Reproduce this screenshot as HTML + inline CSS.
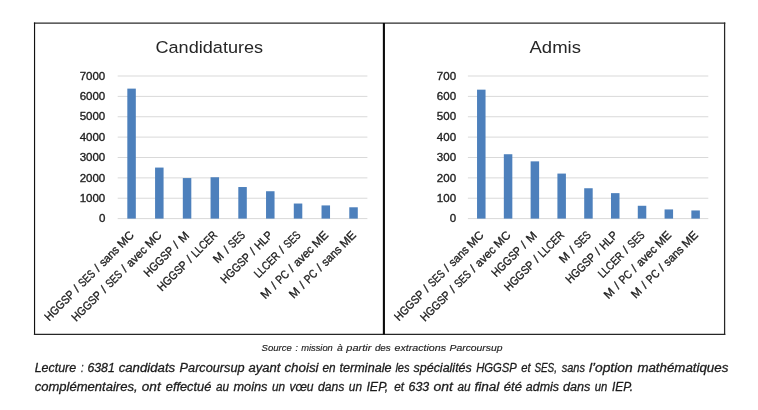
<!DOCTYPE html><html><head><meta charset="utf-8"><title>Candidatures / Admis</title>
<style>html,body{margin:0;padding:0;background:#fff}body{width:758px;height:410px;overflow:hidden}svg{display:block;will-change:transform;opacity:0.999}text{font-family:"Liberation Sans",sans-serif;stroke-linejoin:round}.b{stroke:#1e1e1e;stroke-width:.35px}.i{stroke:#1c1c1c;stroke-width:.28px}.j{stroke:#222;stroke-width:.15px}.i,.j{font-style:italic}</style></head><body>
<svg width="758" height="410" viewBox="0 0 758 410">
<rect x="0" y="0" width="758" height="410" fill="#ffffff"/>
<path d="M33.9 23.1H725.3" stroke="#2b2b2b" stroke-width="1.4" fill="none"/>
<path d="M34.55 22.4V334.9" stroke="#111" stroke-width="1.15" fill="none"/>
<path d="M724.6 22.4V334.9" stroke="#262626" stroke-width="1.25" fill="none"/>
<path d="M33.9 334.3H725.3" stroke="#262626" stroke-width="1.2" fill="none"/>
<rect x="382.85" y="23" width="2.1" height="311.5" fill="#0a0a0a"/>
<line x1="117.70" x2="367.40" y1="218.60" y2="218.60" stroke="#d9d9d9" stroke-width="1"/>
<line x1="117.70" x2="367.40" y1="198.23" y2="198.23" stroke="#d9d9d9" stroke-width="1"/>
<line x1="117.70" x2="367.40" y1="177.86" y2="177.86" stroke="#d9d9d9" stroke-width="1"/>
<line x1="117.70" x2="367.40" y1="157.49" y2="157.49" stroke="#d9d9d9" stroke-width="1"/>
<line x1="117.70" x2="367.40" y1="137.12" y2="137.12" stroke="#d9d9d9" stroke-width="1"/>
<line x1="117.70" x2="367.40" y1="116.75" y2="116.75" stroke="#d9d9d9" stroke-width="1"/>
<line x1="117.70" x2="367.40" y1="96.38" y2="96.38" stroke="#d9d9d9" stroke-width="1"/>
<line x1="117.70" x2="367.40" y1="76.01" y2="76.01" stroke="#d9d9d9" stroke-width="1"/>
<rect x="127.32" y="88.62" width="8.5" height="129.98" fill="#4d80bc"/>
<rect x="155.07" y="167.57" width="8.5" height="51.03" fill="#4d80bc"/>
<rect x="182.81" y="178.06" width="8.5" height="40.54" fill="#4d80bc"/>
<rect x="210.56" y="177.25" width="8.5" height="41.35" fill="#4d80bc"/>
<rect x="238.30" y="187.03" width="8.5" height="31.57" fill="#4d80bc"/>
<rect x="266.04" y="191.24" width="8.5" height="27.36" fill="#4d80bc"/>
<rect x="293.79" y="203.53" width="8.5" height="15.07" fill="#4d80bc"/>
<rect x="321.53" y="205.42" width="8.5" height="13.18" fill="#4d80bc"/>
<rect x="349.28" y="207.29" width="8.5" height="11.31" fill="#4d80bc"/>
<text class="b" x="98.88" y="222.30" font-size="11.7" fill="#1e1e1e" textLength="6.42" lengthAdjust="spacingAndGlyphs">0</text>
<text class="b" x="79.63" y="201.93" font-size="11.7" fill="#1e1e1e" textLength="25.67" lengthAdjust="spacingAndGlyphs">1000</text>
<text class="b" x="79.63" y="181.56" font-size="11.7" fill="#1e1e1e" textLength="25.67" lengthAdjust="spacingAndGlyphs">2000</text>
<text class="b" x="79.63" y="161.19" font-size="11.7" fill="#1e1e1e" textLength="25.67" lengthAdjust="spacingAndGlyphs">3000</text>
<text class="b" x="79.63" y="140.82" font-size="11.7" fill="#1e1e1e" textLength="25.67" lengthAdjust="spacingAndGlyphs">4000</text>
<text class="b" x="79.63" y="120.45" font-size="11.7" fill="#1e1e1e" textLength="25.67" lengthAdjust="spacingAndGlyphs">5000</text>
<text class="b" x="79.63" y="100.08" font-size="11.7" fill="#1e1e1e" textLength="25.67" lengthAdjust="spacingAndGlyphs">6000</text>
<text class="b" x="79.63" y="79.71" font-size="11.7" fill="#1e1e1e" textLength="25.67" lengthAdjust="spacingAndGlyphs">7000</text>
<g transform="translate(134.77,235.90) rotate(-45)" class="b" font-size="11.7" fill="#1e1e1e">
<text x="-121.03" y="0" textLength="37.05" lengthAdjust="spacingAndGlyphs">HGGSP</text>
<text x="-78.55" y="0" text-anchor="middle">/</text>
<text x="-73.12" y="0" textLength="18.22" lengthAdjust="spacingAndGlyphs">SES</text>
<text x="-49.47" y="0" text-anchor="middle">/</text>
<text x="-44.04" y="0" textLength="23.14" lengthAdjust="spacingAndGlyphs">sans</text>
<text x="-17.98" y="0" textLength="17.98" lengthAdjust="spacingAndGlyphs">MC</text>
</g>
<g transform="translate(162.52,235.90) rotate(-45)" class="b" font-size="11.7" fill="#1e1e1e">
<text x="-121.86" y="0" textLength="37.05" lengthAdjust="spacingAndGlyphs">HGGSP</text>
<text x="-79.39" y="0" text-anchor="middle">/</text>
<text x="-73.96" y="0" textLength="18.22" lengthAdjust="spacingAndGlyphs">SES</text>
<text x="-50.30" y="0" text-anchor="middle">/</text>
<text x="-44.88" y="0" textLength="23.97" lengthAdjust="spacingAndGlyphs">avec</text>
<text x="-17.98" y="0" textLength="17.98" lengthAdjust="spacingAndGlyphs">MC</text>
</g>
<g transform="translate(190.26,235.90) rotate(-45)" class="b" font-size="11.7" fill="#1e1e1e">
<text x="-58.98" y="0" textLength="37.05" lengthAdjust="spacingAndGlyphs">HGGSP</text>
<text x="-16.50" y="0" text-anchor="middle">/</text>
<text x="-5.54" y="0" text-anchor="middle">M</text>
</g>
<g transform="translate(218.01,235.90) rotate(-45)" class="b" font-size="11.7" fill="#1e1e1e">
<text x="-79.05" y="0" textLength="37.05" lengthAdjust="spacingAndGlyphs">HGGSP</text>
<text x="-36.58" y="0" text-anchor="middle">/</text>
<text x="-31.15" y="0" textLength="31.15" lengthAdjust="spacingAndGlyphs">LLCER</text>
</g>
<g transform="translate(245.75,235.90) rotate(-45)" class="b" font-size="11.7" fill="#1e1e1e">
<text x="-34.62" y="0" text-anchor="middle">M</text>
<text x="-23.65" y="0" text-anchor="middle">/</text>
<text x="-18.22" y="0" textLength="18.22" lengthAdjust="spacingAndGlyphs">SES</text>
</g>
<g transform="translate(273.49,235.90) rotate(-45)" class="b" font-size="11.7" fill="#1e1e1e">
<text x="-68.11" y="0" textLength="37.05" lengthAdjust="spacingAndGlyphs">HGGSP</text>
<text x="-25.63" y="0" text-anchor="middle">/</text>
<text x="-20.20" y="0" textLength="20.20" lengthAdjust="spacingAndGlyphs">HLP</text>
</g>
<g transform="translate(301.24,235.90) rotate(-45)" class="b" font-size="11.7" fill="#1e1e1e">
<text x="-60.23" y="0" textLength="31.15" lengthAdjust="spacingAndGlyphs">LLCER</text>
<text x="-23.65" y="0" text-anchor="middle">/</text>
<text x="-18.22" y="0" textLength="18.22" lengthAdjust="spacingAndGlyphs">SES</text>
</g>
<g transform="translate(328.98,235.90) rotate(-45)" class="b" font-size="11.7" fill="#1e1e1e">
<text x="-85.14" y="0" text-anchor="middle">M</text>
<text x="-74.17" y="0" text-anchor="middle">/</text>
<text x="-68.75" y="0" textLength="13.59" lengthAdjust="spacingAndGlyphs">PC</text>
<text x="-49.72" y="0" text-anchor="middle">/</text>
<text x="-44.29" y="0" textLength="23.97" lengthAdjust="spacingAndGlyphs">avec</text>
<text x="-17.40" y="0" textLength="17.40" lengthAdjust="spacingAndGlyphs">ME</text>
</g>
<g transform="translate(356.73,235.90) rotate(-45)" class="b" font-size="11.7" fill="#1e1e1e">
<text x="-84.30" y="0" text-anchor="middle">M</text>
<text x="-73.34" y="0" text-anchor="middle">/</text>
<text x="-67.91" y="0" textLength="13.59" lengthAdjust="spacingAndGlyphs">PC</text>
<text x="-48.89" y="0" text-anchor="middle">/</text>
<text x="-43.46" y="0" textLength="23.14" lengthAdjust="spacingAndGlyphs">sans</text>
<text x="-17.40" y="0" textLength="17.40" lengthAdjust="spacingAndGlyphs">ME</text>
</g>
<text x="155.5" y="52.7" font-size="16.8" fill="#262626" textLength="107.6" lengthAdjust="spacingAndGlyphs">Candidatures</text>
<line x1="467.90" x2="708.30" y1="218.60" y2="218.60" stroke="#d9d9d9" stroke-width="1"/>
<line x1="467.90" x2="708.30" y1="198.23" y2="198.23" stroke="#d9d9d9" stroke-width="1"/>
<line x1="467.90" x2="708.30" y1="177.86" y2="177.86" stroke="#d9d9d9" stroke-width="1"/>
<line x1="467.90" x2="708.30" y1="157.49" y2="157.49" stroke="#d9d9d9" stroke-width="1"/>
<line x1="467.90" x2="708.30" y1="137.12" y2="137.12" stroke="#d9d9d9" stroke-width="1"/>
<line x1="467.90" x2="708.30" y1="116.75" y2="116.75" stroke="#d9d9d9" stroke-width="1"/>
<line x1="467.90" x2="708.30" y1="96.38" y2="96.38" stroke="#d9d9d9" stroke-width="1"/>
<line x1="467.90" x2="708.30" y1="76.01" y2="76.01" stroke="#d9d9d9" stroke-width="1"/>
<rect x="477.04" y="89.66" width="8.5" height="128.94" fill="#4d80bc"/>
<rect x="503.83" y="154.23" width="8.5" height="64.37" fill="#4d80bc"/>
<rect x="530.62" y="161.36" width="8.5" height="57.24" fill="#4d80bc"/>
<rect x="557.41" y="173.58" width="8.5" height="45.02" fill="#4d80bc"/>
<rect x="584.20" y="188.25" width="8.5" height="30.35" fill="#4d80bc"/>
<rect x="610.99" y="193.14" width="8.5" height="25.46" fill="#4d80bc"/>
<rect x="637.78" y="205.77" width="8.5" height="12.83" fill="#4d80bc"/>
<rect x="664.57" y="209.43" width="8.5" height="9.17" fill="#4d80bc"/>
<rect x="691.36" y="210.45" width="8.5" height="8.15" fill="#4d80bc"/>
<text class="b" x="449.68" y="222.30" font-size="11.7" fill="#1e1e1e" textLength="6.42" lengthAdjust="spacingAndGlyphs">0</text>
<text class="b" x="436.85" y="201.93" font-size="11.7" fill="#1e1e1e" textLength="19.25" lengthAdjust="spacingAndGlyphs">100</text>
<text class="b" x="436.85" y="181.56" font-size="11.7" fill="#1e1e1e" textLength="19.25" lengthAdjust="spacingAndGlyphs">200</text>
<text class="b" x="436.85" y="161.19" font-size="11.7" fill="#1e1e1e" textLength="19.25" lengthAdjust="spacingAndGlyphs">300</text>
<text class="b" x="436.85" y="140.82" font-size="11.7" fill="#1e1e1e" textLength="19.25" lengthAdjust="spacingAndGlyphs">400</text>
<text class="b" x="436.85" y="120.45" font-size="11.7" fill="#1e1e1e" textLength="19.25" lengthAdjust="spacingAndGlyphs">500</text>
<text class="b" x="436.85" y="100.08" font-size="11.7" fill="#1e1e1e" textLength="19.25" lengthAdjust="spacingAndGlyphs">600</text>
<text class="b" x="436.85" y="79.71" font-size="11.7" fill="#1e1e1e" textLength="19.25" lengthAdjust="spacingAndGlyphs">700</text>
<g transform="translate(484.49,235.90) rotate(-45)" class="b" font-size="11.7" fill="#1e1e1e">
<text x="-121.03" y="0" textLength="37.05" lengthAdjust="spacingAndGlyphs">HGGSP</text>
<text x="-78.55" y="0" text-anchor="middle">/</text>
<text x="-73.12" y="0" textLength="18.22" lengthAdjust="spacingAndGlyphs">SES</text>
<text x="-49.47" y="0" text-anchor="middle">/</text>
<text x="-44.04" y="0" textLength="23.14" lengthAdjust="spacingAndGlyphs">sans</text>
<text x="-17.98" y="0" textLength="17.98" lengthAdjust="spacingAndGlyphs">MC</text>
</g>
<g transform="translate(511.28,235.90) rotate(-45)" class="b" font-size="11.7" fill="#1e1e1e">
<text x="-121.86" y="0" textLength="37.05" lengthAdjust="spacingAndGlyphs">HGGSP</text>
<text x="-79.39" y="0" text-anchor="middle">/</text>
<text x="-73.96" y="0" textLength="18.22" lengthAdjust="spacingAndGlyphs">SES</text>
<text x="-50.30" y="0" text-anchor="middle">/</text>
<text x="-44.88" y="0" textLength="23.97" lengthAdjust="spacingAndGlyphs">avec</text>
<text x="-17.98" y="0" textLength="17.98" lengthAdjust="spacingAndGlyphs">MC</text>
</g>
<g transform="translate(538.07,235.90) rotate(-45)" class="b" font-size="11.7" fill="#1e1e1e">
<text x="-58.98" y="0" textLength="37.05" lengthAdjust="spacingAndGlyphs">HGGSP</text>
<text x="-16.50" y="0" text-anchor="middle">/</text>
<text x="-5.54" y="0" text-anchor="middle">M</text>
</g>
<g transform="translate(564.86,235.90) rotate(-45)" class="b" font-size="11.7" fill="#1e1e1e">
<text x="-79.05" y="0" textLength="37.05" lengthAdjust="spacingAndGlyphs">HGGSP</text>
<text x="-36.58" y="0" text-anchor="middle">/</text>
<text x="-31.15" y="0" textLength="31.15" lengthAdjust="spacingAndGlyphs">LLCER</text>
</g>
<g transform="translate(591.65,235.90) rotate(-45)" class="b" font-size="11.7" fill="#1e1e1e">
<text x="-34.62" y="0" text-anchor="middle">M</text>
<text x="-23.65" y="0" text-anchor="middle">/</text>
<text x="-18.22" y="0" textLength="18.22" lengthAdjust="spacingAndGlyphs">SES</text>
</g>
<g transform="translate(618.44,235.90) rotate(-45)" class="b" font-size="11.7" fill="#1e1e1e">
<text x="-68.11" y="0" textLength="37.05" lengthAdjust="spacingAndGlyphs">HGGSP</text>
<text x="-25.63" y="0" text-anchor="middle">/</text>
<text x="-20.20" y="0" textLength="20.20" lengthAdjust="spacingAndGlyphs">HLP</text>
</g>
<g transform="translate(645.23,235.90) rotate(-45)" class="b" font-size="11.7" fill="#1e1e1e">
<text x="-60.23" y="0" textLength="31.15" lengthAdjust="spacingAndGlyphs">LLCER</text>
<text x="-23.65" y="0" text-anchor="middle">/</text>
<text x="-18.22" y="0" textLength="18.22" lengthAdjust="spacingAndGlyphs">SES</text>
</g>
<g transform="translate(672.02,235.90) rotate(-45)" class="b" font-size="11.7" fill="#1e1e1e">
<text x="-85.14" y="0" text-anchor="middle">M</text>
<text x="-74.17" y="0" text-anchor="middle">/</text>
<text x="-68.75" y="0" textLength="13.59" lengthAdjust="spacingAndGlyphs">PC</text>
<text x="-49.72" y="0" text-anchor="middle">/</text>
<text x="-44.29" y="0" textLength="23.97" lengthAdjust="spacingAndGlyphs">avec</text>
<text x="-17.40" y="0" textLength="17.40" lengthAdjust="spacingAndGlyphs">ME</text>
</g>
<g transform="translate(698.81,235.90) rotate(-45)" class="b" font-size="11.7" fill="#1e1e1e">
<text x="-84.30" y="0" text-anchor="middle">M</text>
<text x="-73.34" y="0" text-anchor="middle">/</text>
<text x="-67.91" y="0" textLength="13.59" lengthAdjust="spacingAndGlyphs">PC</text>
<text x="-48.89" y="0" text-anchor="middle">/</text>
<text x="-43.46" y="0" textLength="23.14" lengthAdjust="spacingAndGlyphs">sans</text>
<text x="-17.40" y="0" textLength="17.40" lengthAdjust="spacingAndGlyphs">ME</text>
</g>
<text x="529.5" y="52.7" font-size="16.8" fill="#262626" textLength="51.4" lengthAdjust="spacingAndGlyphs">Admis</text>
<text class="j" x="261.5" y="350.9" font-size="9.3" fill="#222" textLength="30.4" lengthAdjust="spacingAndGlyphs">Source</text>
<text class="j" x="295.5" y="350.9" font-size="9.3" fill="#222" textLength="2.4" lengthAdjust="spacingAndGlyphs">:</text>
<text class="j" x="301.2" y="350.9" font-size="9.3" fill="#222" textLength="31.6" lengthAdjust="spacingAndGlyphs">mission</text>
<text class="j" x="337.1" y="350.9" font-size="9.3" fill="#222" textLength="5.8" lengthAdjust="spacingAndGlyphs">à</text>
<text class="j" x="346.3" y="350.9" font-size="9.3" fill="#222" textLength="25.0" lengthAdjust="spacingAndGlyphs">partir</text>
<text class="j" x="374.9" y="350.9" font-size="9.3" fill="#222" textLength="15.8" lengthAdjust="spacingAndGlyphs">des</text>
<text class="j" x="394.5" y="350.9" font-size="9.3" fill="#222" textLength="51.5" lengthAdjust="spacingAndGlyphs">extractions</text>
<text class="j" x="449.6" y="350.9" font-size="9.3" fill="#222" textLength="52.9" lengthAdjust="spacingAndGlyphs">Parcoursup</text>
<text class="i" x="34.7" y="371.8" font-size="12" fill="#1c1c1c" textLength="41.5" lengthAdjust="spacingAndGlyphs">Lecture</text>
<text class="i" x="81.1" y="371.8" font-size="12" fill="#1c1c1c" textLength="2.6" lengthAdjust="spacingAndGlyphs">:</text>
<text class="i" x="87.4" y="371.8" font-size="12" fill="#1c1c1c" textLength="27.4" lengthAdjust="spacingAndGlyphs">6381</text>
<text class="i" x="118.7" y="371.8" font-size="12" fill="#1c1c1c" textLength="56.5" lengthAdjust="spacingAndGlyphs">candidats</text>
<text class="i" x="179.6" y="371.8" font-size="12" fill="#1c1c1c" textLength="65.0" lengthAdjust="spacingAndGlyphs">Parcoursup</text>
<text class="i" x="248.6" y="371.8" font-size="12" fill="#1c1c1c" textLength="31.9" lengthAdjust="spacingAndGlyphs">ayant</text>
<text class="i" x="284.4" y="371.8" font-size="12" fill="#1c1c1c" textLength="34.2" lengthAdjust="spacingAndGlyphs">choisi</text>
<text class="i" x="322.5" y="371.8" font-size="12" fill="#1c1c1c" textLength="13.1" lengthAdjust="spacingAndGlyphs">en</text>
<text class="i" x="339.6" y="371.8" font-size="12" fill="#1c1c1c" textLength="51.9" lengthAdjust="spacingAndGlyphs">terminale</text>
<text class="i" x="395.4" y="371.8" font-size="12" fill="#1c1c1c" textLength="14.2" lengthAdjust="spacingAndGlyphs">les</text>
<text class="i" x="413.5" y="371.8" font-size="12" fill="#1c1c1c" textLength="58.3" lengthAdjust="spacingAndGlyphs">spécialités</text>
<text class="i" x="476.2" y="371.8" font-size="12" fill="#1c1c1c" textLength="40.7" lengthAdjust="spacingAndGlyphs">HGGSP</text>
<text class="i" x="521.3" y="371.8" font-size="12" fill="#1c1c1c" textLength="9.4" lengthAdjust="spacingAndGlyphs">et</text>
<text class="i" x="534.4" y="371.8" font-size="12" fill="#1c1c1c" textLength="22.6" lengthAdjust="spacingAndGlyphs">SES,</text>
<text class="i" x="561.7" y="371.8" font-size="12" fill="#1c1c1c" textLength="23.2" lengthAdjust="spacingAndGlyphs">sans</text>
<text class="i" x="588.9" y="371.8" font-size="12" fill="#1c1c1c" textLength="43.7" lengthAdjust="spacingAndGlyphs">l’option</text>
<text class="i" x="637.4" y="371.8" font-size="12" fill="#1c1c1c" textLength="90.9" lengthAdjust="spacingAndGlyphs">mathématiques</text>
<text class="i" x="34.7" y="390.9" font-size="12" fill="#1c1c1c" textLength="102.9" lengthAdjust="spacingAndGlyphs">complémentaires,</text>
<text class="i" x="141.8" y="390.9" font-size="12" fill="#1c1c1c" textLength="18.9" lengthAdjust="spacingAndGlyphs">ont</text>
<text class="i" x="165.8" y="390.9" font-size="12" fill="#1c1c1c" textLength="45.5" lengthAdjust="spacingAndGlyphs">effectué</text>
<text class="i" x="216.0" y="390.9" font-size="12" fill="#1c1c1c" textLength="13.1" lengthAdjust="spacingAndGlyphs">au</text>
<text class="i" x="233.5" y="390.9" font-size="12" fill="#1c1c1c" textLength="34.0" lengthAdjust="spacingAndGlyphs">moins</text>
<text class="i" x="271.9" y="390.9" font-size="12" fill="#1c1c1c" textLength="13.1" lengthAdjust="spacingAndGlyphs">un</text>
<text class="i" x="289.4" y="390.9" font-size="12" fill="#1c1c1c" textLength="24.2" lengthAdjust="spacingAndGlyphs">vœu</text>
<text class="i" x="318.0" y="390.9" font-size="12" fill="#1c1c1c" textLength="26.4" lengthAdjust="spacingAndGlyphs">dans</text>
<text class="i" x="348.8" y="390.9" font-size="12" fill="#1c1c1c" textLength="13.2" lengthAdjust="spacingAndGlyphs">un</text>
<text class="i" x="366.4" y="390.9" font-size="12" fill="#1c1c1c" textLength="21.9" lengthAdjust="spacingAndGlyphs">IEP,</text>
<text class="i" x="394.3" y="390.9" font-size="12" fill="#1c1c1c" textLength="9.8" lengthAdjust="spacingAndGlyphs">et</text>
<text class="i" x="408.5" y="390.9" font-size="12" fill="#1c1c1c" textLength="20.7" lengthAdjust="spacingAndGlyphs">633</text>
<text class="i" x="433.6" y="390.9" font-size="12" fill="#1c1c1c" textLength="19.4" lengthAdjust="spacingAndGlyphs">ont</text>
<text class="i" x="457.4" y="390.9" font-size="12" fill="#1c1c1c" textLength="13.1" lengthAdjust="spacingAndGlyphs">au</text>
<text class="i" x="474.4" y="390.9" font-size="12" fill="#1c1c1c" textLength="25.0" lengthAdjust="spacingAndGlyphs">final</text>
<text class="i" x="503.8" y="390.9" font-size="12" fill="#1c1c1c" textLength="18.1" lengthAdjust="spacingAndGlyphs">été</text>
<text class="i" x="525.8" y="390.9" font-size="12" fill="#1c1c1c" textLength="33.2" lengthAdjust="spacingAndGlyphs">admis</text>
<text class="i" x="563.0" y="390.9" font-size="12" fill="#1c1c1c" textLength="27.4" lengthAdjust="spacingAndGlyphs">dans</text>
<text class="i" x="594.8" y="390.9" font-size="12" fill="#1c1c1c" textLength="12.6" lengthAdjust="spacingAndGlyphs">un</text>
<text class="i" x="611.9" y="390.9" font-size="12" fill="#1c1c1c" textLength="21.1" lengthAdjust="spacingAndGlyphs">IEP.</text>
</svg></body></html>
